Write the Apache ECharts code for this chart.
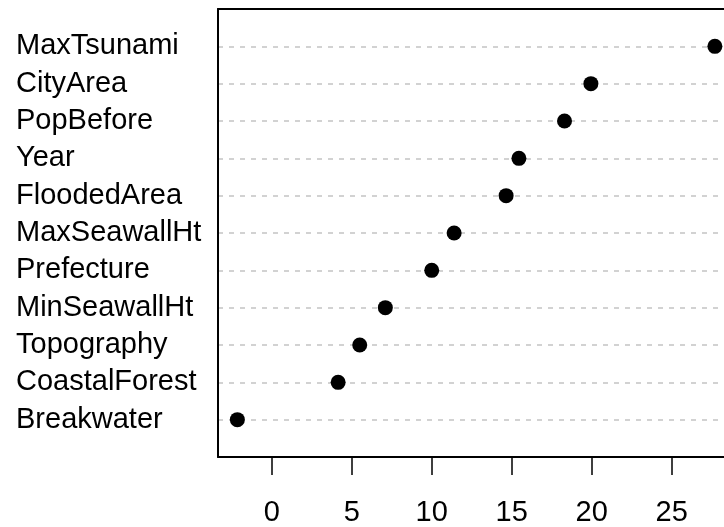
<!DOCTYPE html>
<html>
<head>
<meta charset="utf-8">
<script src="https://cdn.jsdelivr.net/npm/echarts@6/dist/echarts.min.js"></script>
<style>html,body{margin:0;padding:0;background:#fff}#c{width:724px;height:527px}</style>
</head>
<body>
<div id="c"></div>
<script>
// bottom to top
var categories = ["Breakwater","CoastalForest","Topography","MinSeawallHt","Prefecture","MaxSeawallHt","FloodedArea","Year","PopBefore","CityArea","MaxTsunami"];
var values = [-2.15, 4.15, 5.5, 7.1, 10.0, 11.4, 14.65, 15.45, 18.3, 19.95, 27.7];
var xTicks = [0, 5, 10, 15, 20, 25];

var points = values.map(function (v, i) { return [v, i + 1]; });
var gridColors = [];
for (var k = 0; k <= categories.length + 1; k++) {
  gridColors.push(k === 0 || k === categories.length + 1 ? 'rgba(0,0,0,0)' : '#c4c4c4');
}
var FONT = '"Liberation Sans", Arial, sans-serif';
var chart = echarts.init(document.getElementById('c'), null, {renderer: 'canvas'});
chart.setOption({
  animation: false,
  backgroundColor: '#fff',
  grid: {left: 218, top: 9, bottom: 67, right: 0, show: false},
  xAxis: [{
    type: 'value', position: 'bottom', min: -3.36, max: 28.27,
    axisLine: {show: true, onZero: false, lineStyle: {color: '#000', width: 2}},
    splitLine: {show: false},
    axisTick: {show: true, customValues: xTicks, length: 18, inside: false, lineStyle: {color: '#000', width: 1.5}},
    axisLabel: {customValues: xTicks, margin: 41, color: '#000', fontSize: 29, fontFamily: FONT}
  }, {
    type: 'value', position: 'top', min: -3.36, max: 28.27,
    axisLine: {show: true, onZero: false, lineStyle: {color: '#000', width: 2}},
    splitLine: {show: false}, axisTick: {show: false}, axisLabel: {show: false}
  }],
  yAxis: {
    type: 'value', position: 'left', min: 0, max: categories.length + 1, interval: 1,
    axisLine: {show: true, onZero: false, lineStyle: {color: '#000', width: 2}},
    axisTick: {show: false},
    splitLine: {show: true, lineStyle: {color: gridColors, type: [5, 6], width: 1.5}},
    axisLabel: {
      margin: 202, align: 'left', color: '#000', fontSize: 29, fontFamily: FONT,
      formatter: function (v) { var i = Math.round(v) - 1; return categories[i] || ''; }
    }
  },
  series: [{
    type: 'scatter', data: points, symbol: 'circle', symbolSize: 15,
    itemStyle: {color: '#000', opacity: 1}, z: 5
  }]
});
</script>
</body>
</html>
